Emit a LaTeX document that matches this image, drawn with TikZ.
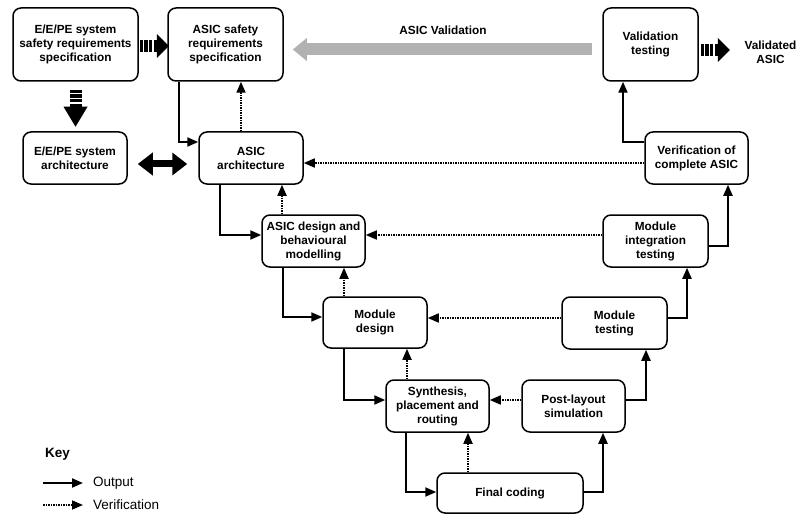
\documentclass[tikz,border=0pt]{standalone}
\usepackage{fontspec}
\setmainfont{Liberation Sans}
\usetikzlibrary{arrows.meta}

\begin{document}
\begin{tikzpicture}[x=1pt,y=-1pt,
    outarrow/.style={-{Triangle[length=11pt,width=9pt]},line width=2.1pt},
    verifarrow/.style={-{Triangle[length=11pt,width=9pt]},line width=1.7pt,dash pattern=on 1.6pt off 0.9pt},
    pics/stripearrow/.style={code={
        \foreach \i in {0,1,2,3} \fill (\i*4.6pt,-6pt) rectangle ++(3.4pt,12pt);
        \fill (17pt,-12pt) -- (17pt+#1,0pt) -- (17pt,12pt) -- cycle;
    }},
    pics/stripearrow/.default=12pt]
    \tikzstyle{block}=[draw,line width=1.5pt,rounded corners=8pt,align=center,inner sep=2pt,font=\bfseries\fontsize{11.8}{14}\selectfont]
    \tikzstyle{lbl}=[align=center,inner sep=0pt,font=\bfseries\fontsize{11.8}{14}\selectfont]
    \tikzstyle{keytext}=[anchor=west,inner sep=0pt,font=\fontsize{13.5}{16}\selectfont]
    \useasboundingbox (0,0) rectangle (798,516);

    % boxes
    \node[block,minimum width=125pt,minimum height=73pt] (sysreq) at (75.5,44.5) {E/E/PE system\\safety requirements\\specification};
    \node[block,minimum width=115pt,minimum height=73pt] (asicreq) at (225.5,44.5) {ASIC safety\\requirements\\specification};
    \node[block,minimum width=104pt,minimum height=52pt] (sysarch) at (75,158) {E/E/PE system\\architecture};
    \node[block,minimum width=104pt,minimum height=52pt] (asicarch) at (251,158) {ASIC\\architecture};
    \node[block,minimum width=95pt,minimum height=73pt] (valtest) at (650.5,44.5) {Validation\\testing};
    \node[block,minimum width=103pt,minimum height=52pt] (verifasic) at (696.5,158) {Verification of\\complete ASIC};
    \node[block,minimum width=103pt,minimum height=52pt] (asicdesign) at (313.5,241) {ASIC design and\\behavioural\\modelling};
    \node[block,minimum width=105pt,minimum height=52pt] (modintg) at (655.5,241) {Module\\integration\\testing};
    \node[block,minimum width=104pt,minimum height=51pt] (moddesign) at (375,322.5) {Module\\design};
    \node[block,minimum width=105pt,minimum height=52pt] (modtest) at (614.5,323) {Module\\testing};
    \node[block,minimum width=103pt,minimum height=52pt] (synth) at (437.5,406) {Synthesis,\\placement and\\routing};
    \node[block,minimum width=103pt,minimum height=52pt] (postlayout) at (573.5,406) {Post-layout\\simulation};
    \node[block,minimum width=146pt,minimum height=40pt] (finalcode) at (510,493) {Final coding};
    \node[lbl] (asicval) at (443,30) {ASIC Validation};
    \node[lbl] (validasic) at (770.5,52) {Validated\\ASIC};

    % big arrows
    \pic at ([xshift=1pt,yshift=-1.5pt]sysreq.east) {stripearrow};
    \pic[rotate=-90] at ([yshift=-8pt]sysreq.south) {stripearrow=20pt};
    \pic at ([xshift=2pt,yshift=-5.5pt]valtest.east) {stripearrow};
    \draw[line width=7pt,{Triangle[length=15pt,width=22pt]}-{Triangle[length=15pt,width=22pt]}]
        ([xshift=10pt,yshift=-6pt]sysarch.east) -- ([xshift=-11pt,yshift=-6pt]asicarch.west);
    \draw[line width=12pt,gray!60,-{Triangle[length=14pt,width=22pt]}]
        ([xshift=-10pt,yshift=-5pt]valtest.west) -- ([xshift=9pt,yshift=-5pt]asicreq.east);

    % left side of the V
    \draw[outarrow] ([xshift=12pt]asicreq.south west) |- ([yshift=16pt]asicarch.west);
    \draw[outarrow] ([xshift=-31pt]asicarch.south) |- ([yshift=6pt]asicdesign.west);
    \draw[outarrow] ([xshift=-30.5pt]asicdesign.south) |- ([yshift=5.5pt]moddesign.west);
    \draw[outarrow] ([xshift=-31pt]moddesign.south) |- ([yshift=6pt]synth.west);
    \draw[outarrow] ([xshift=-31.5pt]synth.south) |- ([yshift=1pt]finalcode.west);
    % right side of the V
    \draw[outarrow] ([yshift=1pt]finalcode.east) -| ([xshift=29.5pt]postlayout.south);
    \draw[outarrow] ([yshift=6pt]postlayout.east) -| ([xshift=31.5pt]modtest.south);
    \draw[outarrow] ([yshift=5pt]modtest.east) -| ([xshift=31.5pt]modintg.south);
    \draw[outarrow] ([yshift=-5pt]modintg.east) -| ([xshift=31.5pt]verifasic.south);
    \draw[outarrow] ([yshift=16pt]verifasic.west) -| ([xshift=-27.5pt]valtest.south);

    % verification
    \draw[verifarrow] ([xshift=-10pt]asicarch.north) -- ([xshift=-10pt]asicarch.north |- asicreq.south);
    \draw[verifarrow] ([xshift=-31.5pt]asicdesign.north) -- ([xshift=-31.5pt]asicdesign.north |- asicarch.south);
    \draw[verifarrow] ([xshift=-31pt]moddesign.north) -- ([xshift=-31pt]moddesign.north |- asicdesign.south);
    \draw[verifarrow] ([xshift=-30.5pt]synth.north) -- ([xshift=-30.5pt]synth.north |- moddesign.south);
    \draw[verifarrow] ([xshift=-42pt]finalcode.north) -- ([xshift=-42pt]finalcode.north |- synth.south);
    \draw[verifarrow] ([yshift=6pt]postlayout.west) -- ([yshift=6pt]synth.east);
    \draw[verifarrow] ([yshift=5pt]modtest.west) -- ([yshift=5pt]modtest.west -| moddesign.east);
    \draw[verifarrow] ([yshift=6pt]modintg.west) -- ([yshift=6pt]asicdesign.east);
    \draw[verifarrow] ([yshift=-5pt]verifasic.west) -- ([yshift=-5pt]asicarch.east);

    % key
    \node[anchor=west,inner sep=0pt,font=\bfseries\fontsize{13.5}{16}\selectfont] (key) at (45,454) {Key};
    \node[keytext] (keyout) at (93,483) {Output};
    \node[keytext] (keyverif) at (93,505) {Verification};
    \coordinate (keyoutfrom) at (43,483);
    \coordinate (keyveriffrom) at (43,505);
    \draw[outarrow] (keyoutfrom) -- ([xshift=-10pt]keyout.west);
    \draw[verifarrow] (keyveriffrom) -- ([xshift=-10pt]keyverif.west);
\end{tikzpicture}
\end{document}
